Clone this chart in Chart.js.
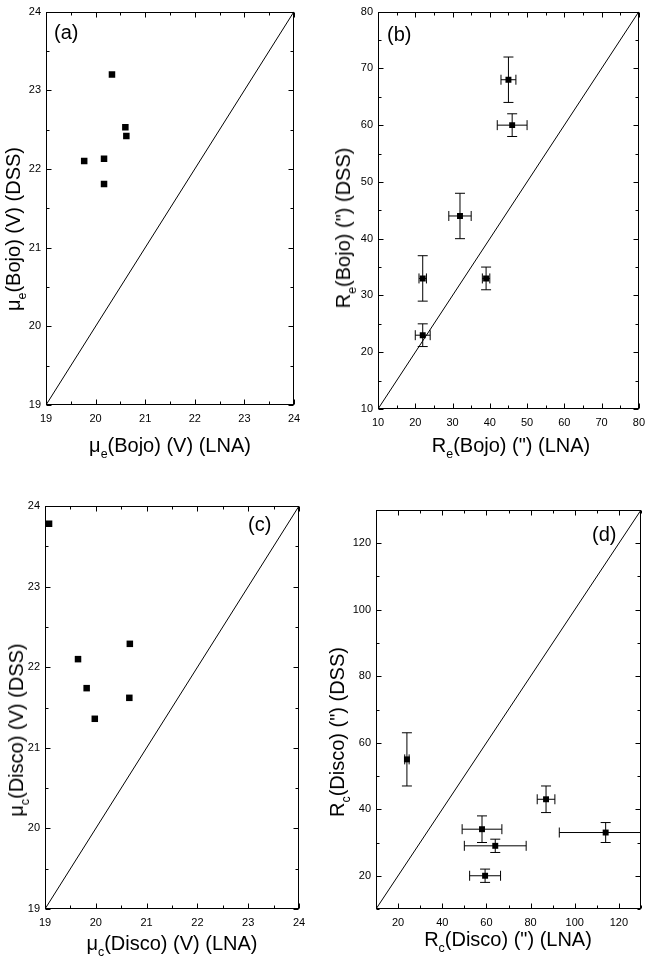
<!DOCTYPE html>
<html>
<head>
<meta charset="utf-8">
<script src="https://cdn.jsdelivr.net/npm/chart.js@4.4.1/dist/chart.umd.min.js"></script>
<style>
body { margin:0; background:#fff; width:652px; height:964px; position:relative; overflow:hidden; font-family:"Liberation Sans", Arial, sans-serif; color:#000; }
.panel { position:absolute; width:326px; height:482px; }
.panel canvas { position:absolute; left:0; top:0; }
.xt, .yt { position:absolute; font-size:20px; line-height:1; white-space:nowrap; }
.xt { transform: translate(-50%,-50%); }
.yt { transform: translate(-50%,-50%) rotate(-90deg); }
.lab { position:absolute; font-size:20px; line-height:1; }
sub { font-size:62%; line-height:0; vertical-align:-0.45em; }
</style>
</head>
<body>

<div class="panel" style="left:0;top:0">
  <canvas id="chartA" width="326" height="482"></canvas>
  <div class="xt" style="left:170px;top:445px">&mu;<sub>e</sub>(Bojo) (V) (LNA)</div>
  <div class="yt" style="left:13px;top:229px">&mu;<sub>e</sub>(Bojo) (V) (DSS)</div>
  <div class="lab" style="left:54px;top:22px">(a)</div>
</div>

<div class="panel" style="left:326px;top:0">
  <canvas id="chartB" width="326" height="482"></canvas>
  <div class="xt" style="left:185px;top:445px">R<sub>e</sub>(Bojo) (") (LNA)</div>
  <div class="yt" style="left:17px;top:228px">R<sub>e</sub>(Bojo) (") (DSS)</div>
  <div class="lab" style="left:61px;top:24px">(b)</div>
</div>

<div class="panel" style="left:0;top:482px">
  <canvas id="chartC" width="326" height="482"></canvas>
  <div class="xt" style="left:172px;top:461px">&mu;<sub>c</sub>(Disco) (V) (LNA)</div>
  <div class="yt" style="left:16px;top:248px">&mu;<sub>c</sub>(Disco) (V) (DSS)</div>
  <div class="lab" style="left:248px;top:32px">(c)</div>
</div>

<div class="panel" style="left:326px;top:482px">
  <canvas id="chartD" width="326" height="482"></canvas>
  <div class="xt" style="left:182px;top:457px">R<sub>c</sub>(Disco) (") (LNA)</div>
  <div class="yt" style="left:11px;top:250px">R<sub>c</sub>(Disco) (") (DSS)</div>
  <div class="lab" style="left:266px;top:42px">(d)</div>
</div>

<script>
// data

// (a) effective surface brightness of the bulge
const bojoMuLNA = [20.33, 20.60, 20.62, 19.77, 20.17, 20.17];
const bojoMuDSS = [23.20, 22.53, 22.42, 22.10, 22.13, 21.81];

// (b) effective radius of the bulge, arcsec
const bojoReLNA    = [45, 46, 32, 22, 39, 22];
const bojoReLNAErr = [2, 4, 3, 1, 1, 2];
const bojoReDSS    = [68, 60, 44, 33, 33, 23];
const bojoReDSSErr = [4, 2, 4, 4, 2, 2];

// (c) central surface brightness of the disc
const discoMuLNA = [19.08, 20.67, 19.65, 19.82, 20.66, 19.98];
const discoMuDSS = [23.78, 22.29, 22.10, 21.74, 21.62, 21.36];

// (d) scale length of the disc, arcsec
const discoRcLNA    = [24, 87, 58, 64, 59.4, 114];
const discoRcLNAErr = [1, 4, 9, 14, 7, 21];
const discoRcDSS    = [55, 43, 34, 29, 20, 33];
const discoRcDSSErr = [8, 4, 4, 2, 2, 3];

// tick labels
const muTicks = [19, 20, 21, 22, 23, 24];
const reTicks = [10, 20, 30, 40, 50, 60, 70, 80];
const rcTicks = [20, 40, 60, 80, 100, 120];


// frame round the plot with inward major / minor ticks
const frameTicks = {
	id: 'frameTicks',
	afterDraw(chart, args, opts) {
		const { ctx, chartArea: a, scales } = chart;
		const L = Math.round(a.left) + 0.5, R = Math.round(a.right) - 0.5;
		const T = Math.round(a.top) + 0.5, B = Math.round(a.bottom) - 0.5;
		ctx.save();
		ctx.strokeStyle = '#000';
		ctx.lineWidth = 1;
		ctx.strokeRect(L, T, R - L, B - T);
		ctx.beginPath();
		['x', 'y'].forEach(k => {
			const s = scales[k];
			const major = s.ticks.map(t => t.value);
			for (let v = s.min; v <= s.max + 1e-9; v += opts.minor) {
				const val = Math.round(v * 1000) / 1000;
				const len = major.some(m => Math.abs(m - val) < 1e-6) ? 5 : 3;
				const p = Math.round(s.getPixelForValue(val)) + 0.5;
				if (k === 'x') {
					ctx.moveTo(p, B); ctx.lineTo(p, B - len);
					ctx.moveTo(p, T); ctx.lineTo(p, T + len);
				} else {
					ctx.moveTo(L, p); ctx.lineTo(L + len, p);
					ctx.moveTo(R, p); ctx.lineTo(R - len, p);
				}
			}
		});
		ctx.stroke();
		ctx.restore();
	}
};

// x / y error bars with caps, under the markers
const errorBars = {
	id: 'errorBars',
	beforeDatasetsDraw(chart, args, opts) {
		if (!opts.xErr && !opts.yErr) return;
		const { ctx, chartArea: a, scales: { x, y } } = chart;
		const pts = chart.data.datasets[0].data;
		const c = opts.cap;
		ctx.save();
		ctx.beginPath();
		ctx.rect(a.left, a.top, a.right - a.left, a.bottom - a.top);
		ctx.clip();
		ctx.strokeStyle = '#000';
		ctx.lineWidth = 1;
		ctx.beginPath();
		pts.forEach((p, i) => {
			const px = x.getPixelForValue(p.x), py = y.getPixelForValue(p.y);
			if (opts.xErr) {
				const x0 = x.getPixelForValue(p.x - opts.xErr[i]);
				const x1 = x.getPixelForValue(p.x + opts.xErr[i]);
				ctx.moveTo(x0, py); ctx.lineTo(x1, py);
				ctx.moveTo(x0, py - c); ctx.lineTo(x0, py + c);
				ctx.moveTo(x1, py - c); ctx.lineTo(x1, py + c);
			}
			if (opts.yErr) {
				const y0 = y.getPixelForValue(p.y - opts.yErr[i]);
				const y1 = y.getPixelForValue(p.y + opts.yErr[i]);
				ctx.moveTo(px, y0); ctx.lineTo(px, y1);
				ctx.moveTo(px - c, y0); ctx.lineTo(px + c, y0);
				ctx.moveTo(px - c, y1); ctx.lineTo(px + c, y1);
			}
		});
		ctx.stroke();
		ctx.restore();
	}
};

const tickFont = { family: '"Liberation Sans", Arial, sans-serif', size: 11 };

function makePanel(id, p) {
	const pts = p.xs.map((v, i) => ({ x: v, y: p.ys[i] }));
	const axis = (ticks, fit, pad) => ({
		type: 'linear',
		min: p.min,
		max: p.max,
		grid: { display: false, drawTicks: false },
		border: { display: false },
		afterBuildTicks: s => { s.ticks = ticks.map(v => ({ value: v })); },
		afterFit: fit,
		ticks: { color: '#000', font: tickFont, padding: pad, maxRotation: 0 }
	});
	new Chart(document.getElementById(id), {
		type: 'scatter',
		data: {
			datasets: [{
				data: pts,
				pointStyle: 'rect',
				pointRadius: p.r,
				pointBorderWidth: 0,
				backgroundColor: '#000',
				borderColor: '#000'
			}, {
				// y = x reference line
				data: [{ x: p.min, y: p.min }, { x: p.max, y: p.max }],
				showLine: true,
				borderColor: '#000',
				borderWidth: 1,
				pointRadius: 0
			}]
		},
		options: {
			responsive: false,
			animation: false,
			layout: { padding: { top: p.top, right: p.right, left: 0, bottom: 0 } },
			scales: {
				x: axis(p.ticks, s => { s.height = p.xh; }, 7),
				y: axis(p.ticks, s => { s.width = p.yw; }, 5)
			},
			plugins: {
				legend: { display: false },
				tooltip: { enabled: false },
				frameTicks: { minor: p.minor },
				errorBars: { xErr: p.xErr, yErr: p.yErr, cap: 5 }
			}
		},
		plugins: [errorBars, frameTicks]
	});
}

document.addEventListener('DOMContentLoaded', () => {
	makePanel('chartA', { xs: bojoMuLNA, ys: bojoMuDSS, min: 19, max: 24, ticks: muTicks, minor: 0.5,
		r: 4.6, yw: 46, xh: 77, top: 5, right: 32 });
	makePanel('chartB', { xs: bojoReLNA, ys: bojoReDSS, xErr: bojoReLNAErr, yErr: bojoReDSSErr,
		min: 10, max: 80, ticks: reTicks, minor: 5, r: 4.2, yw: 52, xh: 73, top: 5, right: 8 });
	makePanel('chartC', { xs: discoMuLNA, ys: discoMuDSS, min: 19, max: 24, ticks: muTicks, minor: 0.5,
		r: 4.6, yw: 45, xh: 55, top: 24, right: 27 });
	makePanel('chartD', { xs: discoRcLNA, ys: discoRcDSS, xErr: discoRcLNAErr, yErr: discoRcDSSErr,
		min: 10, max: 130, ticks: rcTicks, minor: 10, r: 4.2, yw: 50, xh: 55, top: 28, right: 11 });
});
</script>
</body>
</html>
